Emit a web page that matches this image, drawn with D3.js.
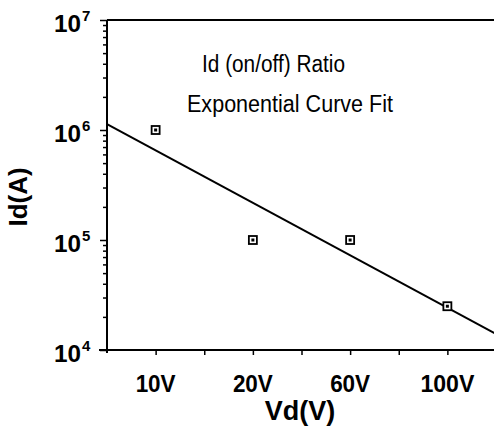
<!DOCTYPE html>
<html>
<head>
<meta charset="utf-8">
<script src="https://cdn.jsdelivr.net/npm/d3@7"></script>
<style>
  html, body { margin: 0; padding: 0; background: #fff; }
  svg { display: block; font-family: "Liberation Sans", Arial, Helvetica, sans-serif; }
</style>
</head>
<body>
<div id="chart"></div>
<script>
const AREA_WIDTH = 494;
const AREA_HEIGHT = 430;

// data
const categories = ["10V", "20V", "60V", "100V"];
const ratioValues = [1.0e6, 1.0e5, 1.0e5, 2.5e4];
const fitPositions = [0, 8];          // category axis units (category i sits at 2i+1)
const fitValues = [1.13e6, 1.4e4];
const yDecades = [1e4, 1e5, 1e6, 1e7];
const notes = ["Id (on/off) Ratio", "Exponential Curve Fit"];

const X0 = 107, X1 = 496, Y0 = 20, Y1 = 350;

const svg = d3.select('#chart')
              .append('svg')
              .attr('width', AREA_WIDTH)
              .attr('height', AREA_HEIGHT);

const x = d3.scaleLinear().domain([0, 8]).range([X0, X1]);
const y = d3.scaleLog().domain([1e4, 1e7]).range([Y1, Y0]);

// y axis with log minor ticks
const yAxis = svg.append('g')
                 .attr('transform', `translate(${X0},0)`)
                 .call(d3.axisLeft(y).tickSizeOuter(0).tickFormat(''));
yAxis.select('.domain').attr('stroke-width', 2).attr('d', `M0,${Y0}V${Y1 + 3}`);
yAxis.selectAll('.tick line')
     .attr('x2', d => yDecades.includes(d) ? -7 : -4)
     .attr('stroke-width', 1.5);

// x axis
const xAxis = svg.append('g')
                 .attr('transform', `translate(0,${Y1})`)
                 .call(d3.axisBottom(x).tickValues(d3.range(1, 8)).tickSizeOuter(0).tickFormat(''));
xAxis.select('.domain').attr('stroke-width', 2).attr('d', `M${X0 - 8},0H${AREA_WIDTH}`);
xAxis.selectAll('.tick line').attr('y2', 5).attr('stroke-width', 1.5);

// top frame
svg.append('line')
   .attr('x1', X0).attr('x2', AREA_WIDTH)
   .attr('y1', Y0).attr('y2', Y0)
   .attr('stroke', '#000').attr('stroke-width', 2);

// y tick labels 10^n
const yLab = svg.append('g').attr('font-weight', 'bold').attr('fill', '#000');
yDecades.forEach(v => {
  yLab.append('text')
      .attr('x', 54).attr('y', y(v) + 12)
      .attr('font-size', 23)
      .attr('textLength', 27)
      .attr('lengthAdjust', 'spacingAndGlyphs')
      .text('10');
  yLab.append('text')
      .attr('x', 82).attr('y', y(v) + 1)
      .attr('font-size', 15)
      .text(Math.round(Math.log10(v)));
});

// x tick labels
svg.append('g')
   .selectAll('text')
   .data(categories)
   .enter()
   .append('text')
   .attr('x', (d, i) => x(2 * i + 1) - (d.length === 4 ? 27 : 20))
   .attr('y', 392)
   .attr('font-size', 23)
   .attr('font-weight', 'bold')
   .attr('textLength', d => d.length === 4 ? 54 : 40)
   .attr('lengthAdjust', 'spacingAndGlyphs')
   .text(d => d);

// axis titles
svg.append('text')
   .attr('x', 300).attr('y', 420)
   .attr('text-anchor', 'middle')
   .attr('font-size', 27)
   .attr('font-weight', 'bold')
   .text('Vd(V)');

svg.append('text')
   .attr('transform', 'translate(27,197) rotate(-90)')
   .attr('text-anchor', 'middle')
   .attr('font-size', 26)
   .attr('font-weight', 'bold')
   .text('Id(A)');

// notes
svg.append('text').attr('x', 202).attr('y', 72).attr('font-size', 23)
   .attr('textLength', 143).attr('lengthAdjust', 'spacingAndGlyphs').text(notes[0]);
svg.append('text').attr('x', 187).attr('y', 112).attr('font-size', 23)
   .attr('textLength', 206).attr('lengthAdjust', 'spacingAndGlyphs').text(notes[1]);

// fit line
const line = d3.line().x(d => x(d[0])).y(d => y(d[1]));
svg.append('path')
   .datum(fitPositions.map((p, i) => [p, fitValues[i]]))
   .attr('d', line)
   .attr('fill', 'none')
   .attr('stroke', '#000')
   .attr('stroke-width', 2);

// markers
const pts = svg.append('g')
               .selectAll('g')
               .data(ratioValues)
               .enter()
               .append('g')
               .attr('transform', (d, i) => `translate(${x(2 * i + 1)},${y(d)})`);
pts.append('rect')
   .attr('x', -4).attr('y', -4)
   .attr('width', 8).attr('height', 8)
   .attr('fill', '#fff')
   .attr('stroke', '#000')
   .attr('stroke-width', 1.8);
pts.append('rect')
   .attr('x', -1.5).attr('y', -1.5)
   .attr('width', 3).attr('height', 3)
   .attr('fill', '#000');
</script>
</body>
</html>
